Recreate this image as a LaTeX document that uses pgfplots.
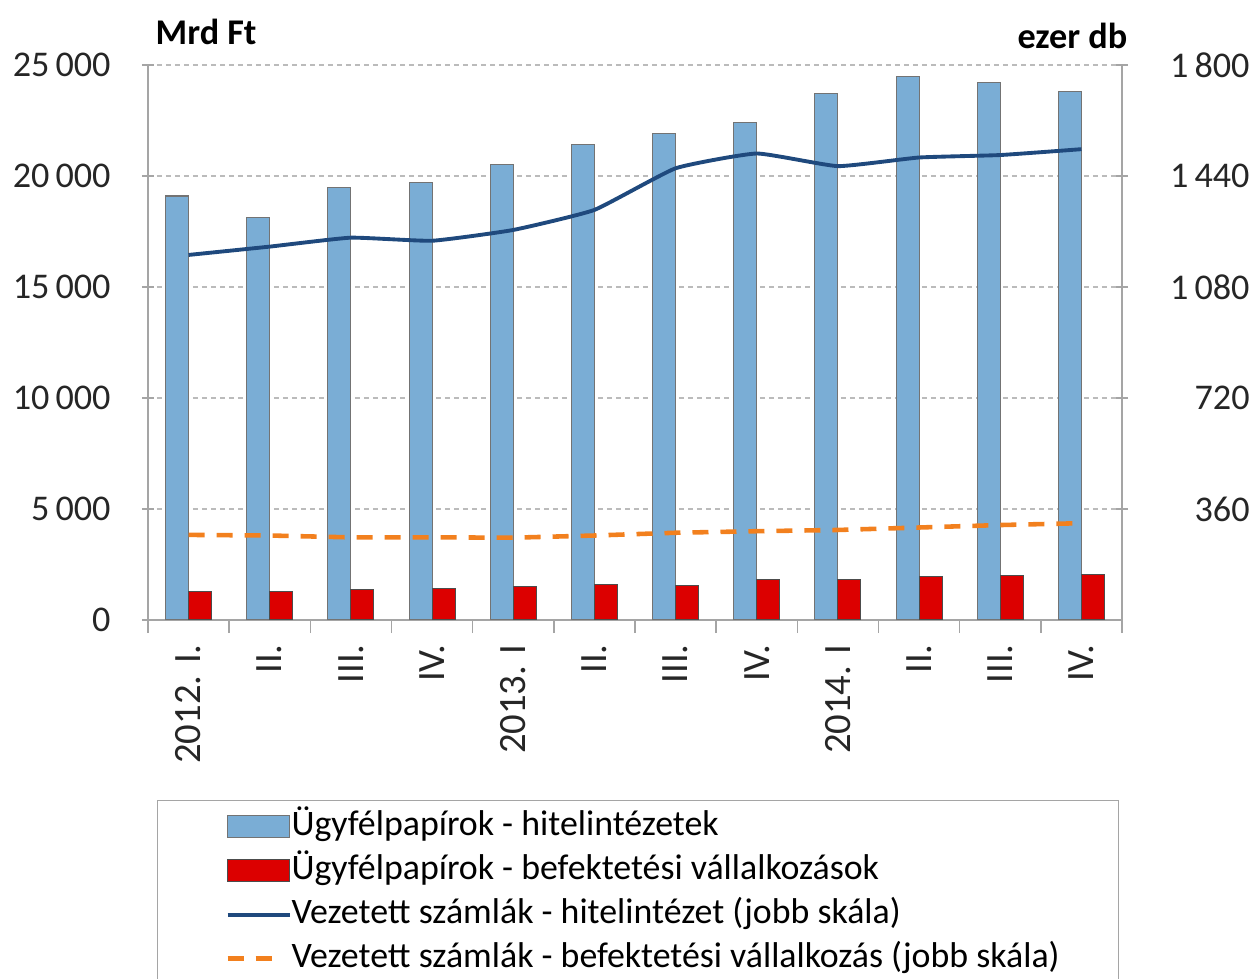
\documentclass[border=0pt]{standalone}
\usepackage{pgfplots}
\pgfplotsset{compat=1.18}
\usepackage{fontspec}
\setmainfont{Carlito}
\definecolor{barblue}{RGB}{122,173,213}
\definecolor{barred}{RGB}{220,0,0}
\definecolor{linedark}{RGB}{31,73,125}
\definecolor{lineorange}{RGB}{242,128,30}
\definecolor{axgray}{RGB}{165,165,165}
\pgfplotsset{
  barleg/.style={legend image code/.code={\path[draw=none, fill=none] (-1.1mm,0) -- (0,0); \draw[##1] (0mm,-1.1mm) rectangle (6.2mm,1.1mm);}},
  lineleg/.style={legend image code/.code={\path[draw=none, fill=none] (-1.1mm,0) -- (0,0); \draw[##1, sharp plot] (0mm,0mm) -- (6.2mm,0mm);}},
  dashleg/.style={legend image code/.code={\path[draw=none, fill=none] (-1.1mm,0) -- (6.2mm,0); \draw[##1, sharp plot] (0mm,0mm) -- (4.7mm,0mm);}},
}
\begin{document}
\begin{tikzpicture}
\useasboundingbox (0,0) rectangle (125.5mm,97.8mm);
\pgfplotsset{
  base/.style={
    scale only axis, width=97.4mm, height=55.5mm,
    at={(14.8mm,35.8mm)}, anchor=south west,
    xmin=-0.5, xmax=11.5,
    tick align=outside,
    scaled y ticks=false,
    /pgf/number format/assume math mode=true,
    /pgf/number format/1000 sep={\,},
    ticklabel style={font=\fontsize{10.3}{12}\selectfont, text=black!85},
    axis line style={axgray, -},
    every outer x axis line/.append style={-},
    every outer y axis line/.append style={-},
    every inner x axis line/.append style={-},
    every inner y axis line/.append style={-},
    tick style={axgray, line width=0.4pt},
    major tick length=1.2mm,
    minor tick length=1.3mm,
  }
}
\begin{axis}[base,
  ymin=0, ymax=25000,
  ytick={0,5000,10000,15000,20000,25000},
  axis x line=bottom, axis y line=left,
  every outer x axis line/.append style={-},
  every outer y axis line/.append style={-},
  xtick={0,...,11},
  xticklabels={2012. I., II., III., IV., 2013. I, II., III., IV., 2014. I, II., III., IV.},
  major x tick style={draw=none},
  minor xtick={-0.5,0.5,...,11.5},
  xticklabel style={rotate=90, anchor=east, yshift=0mm, font=\fontsize{11}{13}\selectfont},
  yticklabel style={xshift=-1.9mm},
  ymajorgrids, grid style={axgray!75, dash pattern=on 0.5mm off 0.4mm, line width=0.4pt},
  ybar=0pt, bar width=2.3mm,
]
\addplot[fill=barblue, draw=black!55, line width=0.3pt] coordinates {
(0,19100) (1,18150) (2,19500) (3,19700) (4,20500) (5,21400) (6,21900) (7,22400) (8,23700) (9,24500) (10,24200) (11,23800)};
\addplot[fill=barred, draw=black!70, line width=0.3pt] coordinates {
(0,1300) (1,1300) (2,1370) (3,1420) (4,1490) (5,1580) (6,1570) (7,1840) (8,1840) (9,1940) (10,2010) (11,2060)};
\end{axis}
\begin{axis}[base,
  ymin=0, ymax=1800,
  ytick={360,720,1080,1440,1800},
  axis y line=right, axis x line=none,
  every outer y axis line/.append style={-},
  yticklabel style={anchor=east, xshift=13.4mm},
  legend style={at={(0.0092,-0.3243)}, anchor=north west, draw=axgray, line width=0.4pt,
    inner xsep=5.9mm, inner ysep=0.9mm, row sep=1mm,
    font=\fontsize{10.2}{12}\selectfont,
    nodes={inner xsep=0mm, inner ysep=0mm, text height=2.6mm, text depth=0.8mm}},
  legend cell align=left,
]
\addlegendimage{barleg, fill=barblue, draw=black!55, line width=0.3pt}
\addlegendentry{Ügyfélpapírok - hitelintézetek}
\addlegendimage{barleg, fill=barred, draw=black!70, line width=0.3pt}
\addlegendentry{Ügyfélpapírok - befektetési vállalkozások}
\addplot[linedark, line width=1.1pt, line join=round, smooth, tension=0.25, mark=none, lineleg] coordinates {
(0,1184) (1,1211) (2,1240) (3,1230) (4,1265) (5,1330) (6,1465) (7,1513) (8,1472) (9,1500) (10,1508) (11,1527)};
\addlegendentry{Vezetett számlák - hitelintézet (jobb skála)}
\addplot[lineorange, line width=1.3pt, dash pattern=on 1.6mm off 1.2mm, mark=none, dashleg] coordinates {
(0,276) (1,274) (2,268) (3,268) (4,267) (5,274) (6,283) (7,288) (8,292) (9,300) (10,308) (11,314)};
\addlegendentry{Vezetett számlák - befektetési vállalkozás (jobb skála)}
\end{axis}
\node[anchor=west, font=\bfseries\fontsize{10.3}{12}\selectfont, inner sep=0pt] at (15.5mm,94.6mm) {Mrd Ft};
\node[anchor=east, font=\bfseries\fontsize{10.3}{12}\selectfont, inner sep=0pt] at (112.8mm,94.2mm) {ezer db};
\end{tikzpicture}
\end{document}
